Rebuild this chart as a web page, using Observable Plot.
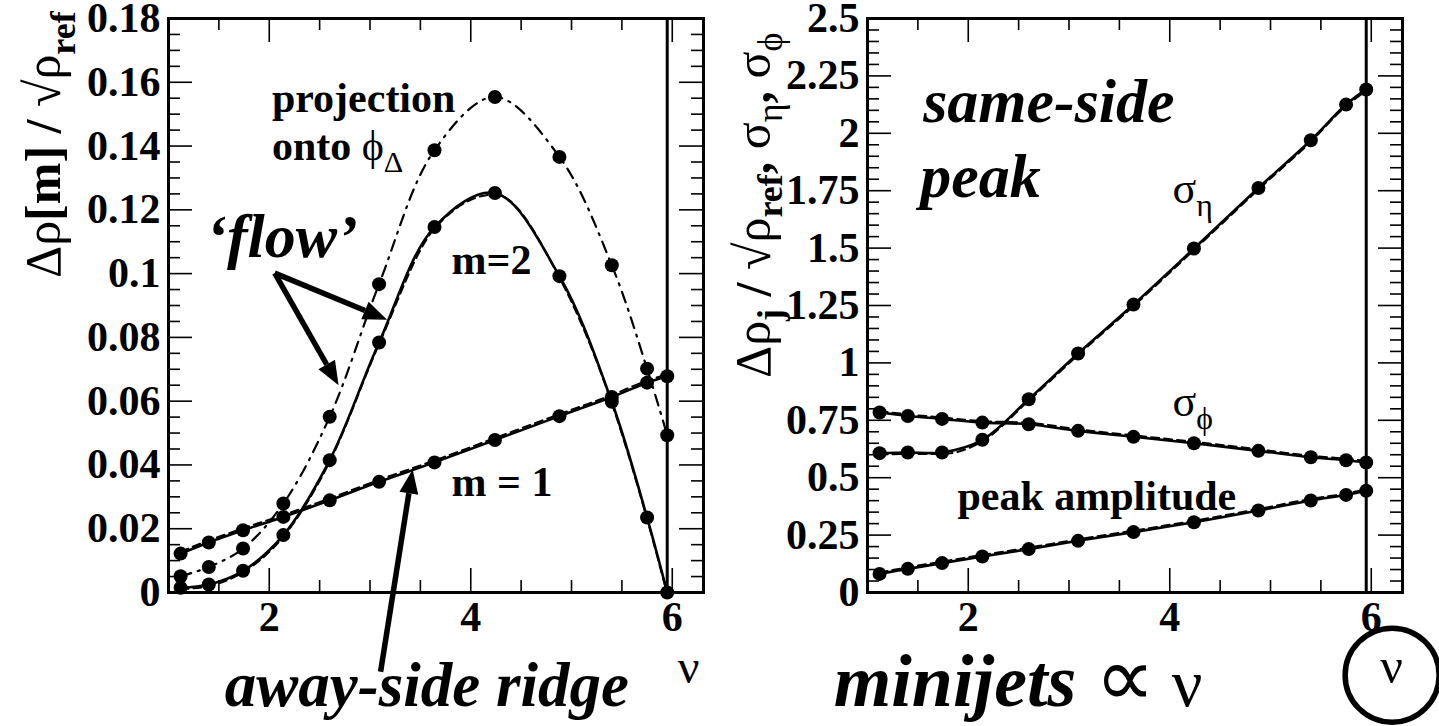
<!DOCTYPE html>
<html><head><meta charset="utf-8">
<script src="https://cdn.jsdelivr.net/npm/d3@7"></script>
<script src="https://cdn.jsdelivr.net/npm/@observablehq/plot@0.6"></script>
<style>
body{margin:0;background:#fff;}
#wrap{display:flex;width:1439px;height:726px;overflow:hidden;background:#fff;}
svg{overflow:visible;display:block}
svg text, svg tspan{font-family:"Liberation Serif","Times New Roman",serif;}
</style></head><body><div id="wrap"></div>
<script>
// ---- data ----
const nu      = [1.12, 1.40, 1.74, 2.14, 2.60, 3.09, 3.64, 4.24, 4.88, 5.40, 5.75, 5.95];
// left panel: away-side ridge multipoles
const m1      = [0.0122, 0.0157, 0.0195, 0.0237, 0.0289, 0.0347, 0.0408, 0.0478, 0.0553, 0.0613, 0.0658, 0.0678];
const m2      = [0.0015, 0.0025, 0.0068, 0.0180, 0.0415, 0.0784, 0.1146, 0.1253, 0.0992, 0.0598, 0.0235, 0.0000];
const proj    = [0.0051, 0.0080, 0.0138, 0.0279, 0.0551, 0.0967, 0.1387, 0.1554, 0.1366, 0.1026, 0.0702, 0.0493];
// right panel: same-side peak
const sigPhi  = [0.784, 0.769, 0.756, 0.740, 0.733, 0.704, 0.678, 0.650, 0.617, 0.589, 0.576, 0.566];
const sigEta  = [0.607, 0.610, 0.610, 0.665, 0.842, 1.041, 1.254, 1.498, 1.762, 1.970, 2.125, 2.191];
const amp     = [0.081, 0.103, 0.128, 0.157, 0.189, 0.225, 0.263, 0.306, 0.357, 0.401, 0.425, 0.443];
// axes
const xDomain = [1, 6.31];
const xMajor  = [2, 4, 6];
const xMinor  = [1.5, 2.5, 3, 3.5, 4.5, 5, 5.5];
const yLeftMajor   = [0, 0.02, 0.04, 0.06, 0.08, 0.1, 0.12, 0.14, 0.16, 0.18];
const yLeftLabels  = ["0","0.02","0.04","0.06","0.08","0.1","0.12","0.14","0.16","0.18"];
const yRightMajor  = [0, 0.25, 0.5, 0.75, 1, 1.25, 1.5, 1.75, 2, 2.25, 2.5];
const yRightLabels = ["0","0.25","0.5","0.75","1","1.25","1.5","1.75","2","2.25","2.5"];

const rows = nu.map((v, i) => ({nu: v, m1: m1[i], m2: m2[i], proj: proj[i], sigPhi: sigPhi[i], sigEta: sigEta[i], amp: amp[i]}));
const nuMax = nu[nu.length - 1];

const serif = "Liberation Serif";
const H = 726, MT = 18, MB = 134;
const IH = H - MT - MB;

function axisMarks(iw, yMajor, yLabels, yMinor) {
  const tk = {strokeWidth: 1.6};
  return [
    Plot.tickX(xMinor, {x: d => d, insetTop: IH - 12, ...tk}),
    Plot.tickX(xMinor, {x: d => d, insetBottom: IH - 12, ...tk}),
    Plot.tickX(xMajor, {x: d => d, insetTop: IH - 24, ...tk}),
    Plot.tickX(xMajor, {x: d => d, insetBottom: IH - 24, ...tk}),
    Plot.tickY(yMinor, {y: d => d, insetRight: iw - 12, ...tk}),
    Plot.tickY(yMinor, {y: d => d, insetLeft: iw - 12, ...tk}),
    Plot.tickY(yMajor, {y: d => d, insetRight: iw - 24, ...tk}),
    Plot.tickY(yMajor, {y: d => d, insetLeft: iw - 24, ...tk}),
    Plot.text(xMajor, {x: d => d, text: d => String(d), frameAnchor: "bottom", dy: 25, lineAnchor: "middle",
      fontSize: 42, fontWeight: "bold", fontFamily: serif, fill: "black"}),
    Plot.text(yMajor, {y: d => d, text: (d, i) => yLabels[i], frameAnchor: "left", textAnchor: "end", dx: -8, lineAnchor: "middle",
      fontSize: 42, fontWeight: "bold", fontFamily: serif, fill: "black"})
  ];
}

function seriesMarks(key, {dashDot = false, dy = -1.5} = {}) {
  const out = [];
  if (dashDot) {
    out.push(Plot.line(rows, {x: "nu", y: key, curve: "catmull-rom", stroke: "black", strokeWidth: 2.2, strokeDasharray: "11,7,2,7"}));
  } else {
    out.push(Plot.line(rows, {x: "nu", y: key, curve: "monotone-x", stroke: "black", strokeWidth: 2, strokeDasharray: "8,5", dy}));
    out.push(Plot.line(rows, {x: "nu", y: key, curve: "catmull-rom", stroke: "black", strokeWidth: 2.6}));
  }
  out.push(Plot.dot(rows, {x: "nu", y: key, r: 7, fill: "black"}));
  return out;
}

// ---------- LEFT PANEL ----------
const LW = 720, LML = 168, LMR = 17, LIW = LW - LML - LMR;
const left = Plot.plot({
  width: LW, height: H, marginLeft: LML, marginRight: LMR, marginTop: MT, marginBottom: MB,
  x: {domain: xDomain, axis: null},
  y: {domain: [0, 0.18], axis: null},
  style: {background: "white", overflow: "visible", fontFamily: serif},
  marks: [
    ...axisMarks(LIW, yLeftMajor, yLeftLabels, d3.range(0.005, 0.18, 0.005).filter(v => Math.abs(v / 0.02 - Math.round(v / 0.02)) > 1e-6)),
    Plot.ruleX([nuMax], {stroke: "black", strokeWidth: 3}),
    ...seriesMarks("proj", {dashDot: true}),
    ...seriesMarks("m2", {dy: 1.5}),
    ...seriesMarks("m1", {dy: -2}),
    Plot.frame({stroke: "black", strokeWidth: 3})
  ]
});

// ---------- RIGHT PANEL ----------
const RW = 719, RML = 147, RMR = 37, RIW = RW - RML - RMR;
const circleNote = [{nu: 6.207, v: -0.36}];
const right = Plot.plot({
  width: RW, height: H, marginLeft: RML, marginRight: RMR, marginTop: MT, marginBottom: MB,
  x: {domain: xDomain, axis: null},
  y: {domain: [0, 2.5], axis: null},
  style: {background: "white", overflow: "visible", fontFamily: serif},
  marks: [
    ...axisMarks(RIW, yRightMajor, yRightLabels, d3.range(0.05, 2.5, 0.05).filter(v => Math.abs(v / 0.25 - Math.round(v / 0.25)) > 1e-6)),
    Plot.ruleX([nuMax], {stroke: "black", strokeWidth: 3}),
    ...seriesMarks("amp", {dy: -1.5}),
    ...seriesMarks("sigPhi", {dy: -1.5}),
    ...seriesMarks("sigEta", {dy: 1.5}),
    Plot.frame({stroke: "black", strokeWidth: 3}),
    Plot.dot(circleNote, {x: "nu", y: "v", r: 47, fill: "white", stroke: "black", strokeWidth: 5.5})
  ]
});

const wrap = document.getElementById("wrap");
wrap.appendChild(left);
wrap.appendChild(right);

// ---------- annotations ----------
function addText(svg, x, y, parts, {size = 40, anchor = "start", rotate = 0, subShift = 0.3} = {}) {
  const t = d3.select(svg).append("text")
    .attr("font-family", serif).attr("font-size", size).attr("text-anchor", anchor).attr("fill", "black");
  if (rotate) t.attr("transform", `translate(${x},${y}) rotate(${rotate})`).attr("x", 0).attr("y", 0);
  else t.attr("x", x).attr("y", y);
  let shifted = 0;
  for (const p of parts) {
    const s = t.append("tspan").text(p.t);
    if (p.b) s.attr("font-weight", "bold");
    if (p.i) s.attr("font-style", "italic");
    if (p.size) s.attr("font-size", p.size);
    const want = p.sub ? size * subShift : 0;
    if (p.sub) s.attr("font-size", size * 0.72);
    if (want !== shifted) { s.attr("dy", want - shifted); shifted = want; }
  }
  return t;
}
function arrow(svg, x1, y1, x2, y2) {
  const g = d3.select(svg).append("g");
  const a = Math.atan2(y2 - y1, x2 - x1), hl = 24, hw = 9.5;
  const bx = x2 - hl * Math.cos(a), by = y2 - hl * Math.sin(a);
  g.append("line").attr("x1", x1).attr("y1", y1).attr("x2", bx).attr("y2", by)
    .attr("stroke", "black").attr("stroke-width", 5.5);
  g.append("path").attr("d", `M${x2},${y2}L${bx - hw * Math.sin(a)},${by + hw * Math.cos(a)}L${bx + hw * Math.sin(a)},${by - hw * Math.cos(a)}Z`)
    .attr("fill", "black");
}

// left panel notes (data coordinates)
{
  const sx = left.scale("x"), sy = left.scale("y");
  const X = v => sx.apply(v), Y = v => sy.apply(v);
  addText(left, X(2.031), Y(0.1505), [{t: "projection", b: 1}], {size: 42});
  addText(left, X(2.031), Y(0.1356), [{t: "onto ", b: 1}, {t: "ϕ"}, {t: "Δ", sub: 1}], {size: 42});
  addText(left, X(1.38), Y(0.1051), [{t: "‘flow’", b: 1, i: 1}], {size: 62});
  addText(left, X(3.815), Y(0.0998), [{t: "m=2", b: 1}], {size: 42});
  addText(left, X(3.815), Y(0.0301), [{t: "m = 1", b: 1}], {size: 42});
  addText(left, X(1.563), Y(-0.0356), [{t: "away-side ridge", b: 1, i: 1}], {size: 63});
  addText(left, X(6.166), Y(-0.0284), [{t: "ν"}], {size: 48, anchor: "middle"});
  arrow(left, X(2.059), Y(0.1000), X(3.175), Y(0.0854));
  arrow(left, X(2.059), Y(0.1000), X(2.693), Y(0.0648));
  arrow(left, X(3.110), Y(-0.0250), X(3.428), Y(0.0384));
  // y title
  addText(left, 60, 278, [{t: "Δρ"}, {t: "[m] / ", b: 1}, {t: "√ρ"}, {t: "ref", b: 1, sub: 1}], {size: 50, rotate: -90});
}
// right panel notes
{
  const sx = right.scale("x"), sy = right.scale("y");
  const X = v => sx.apply(v), Y = v => sy.apply(v);
  addText(right, X(1.558), Y(2.048), [{t: "same-side", b: 1, i: 1}], {size: 62});
  addText(right, X(1.528), Y(1.722), [{t: "peak", b: 1, i: 1}], {size: 62});
  addText(right, X(4.032), Y(1.696), [{t: "σ"}, {t: "η", sub: 1}], {size: 44});
  addText(right, X(4.032), Y(0.768), [{t: "σ"}, {t: "ϕ", sub: 1}], {size: 44});
  addText(right, X(1.897), Y(0.358), [{t: "peak amplitude", b: 1}], {size: 42});
  addText(right, X(0.670), Y(-0.495), [{t: "minijets ", b: 1, i: 1}, {t: "∝", size: 84}, {t: " ν", size: 68}], {size: 74});
  addText(right, X(6.207), Y(-0.395), [{t: "ν"}], {size: 50, anchor: "middle"});
  // y title
  addText(right, 770 - 720, 378, [{t: "Δρ"}, {t: "j", b: 1, sub: 1}, {t: " / ", b: 1}, {t: "√ρ"}, {t: "ref", b: 1, sub: 1},
    {t: ", ", b: 1}, {t: "σ"}, {t: "η", sub: 1}, {t: ", ", b: 1}, {t: "σ"}, {t: "ϕ", sub: 1}], {size: 50, rotate: -90, subShift: 0.24});
}
</script></body></html>
